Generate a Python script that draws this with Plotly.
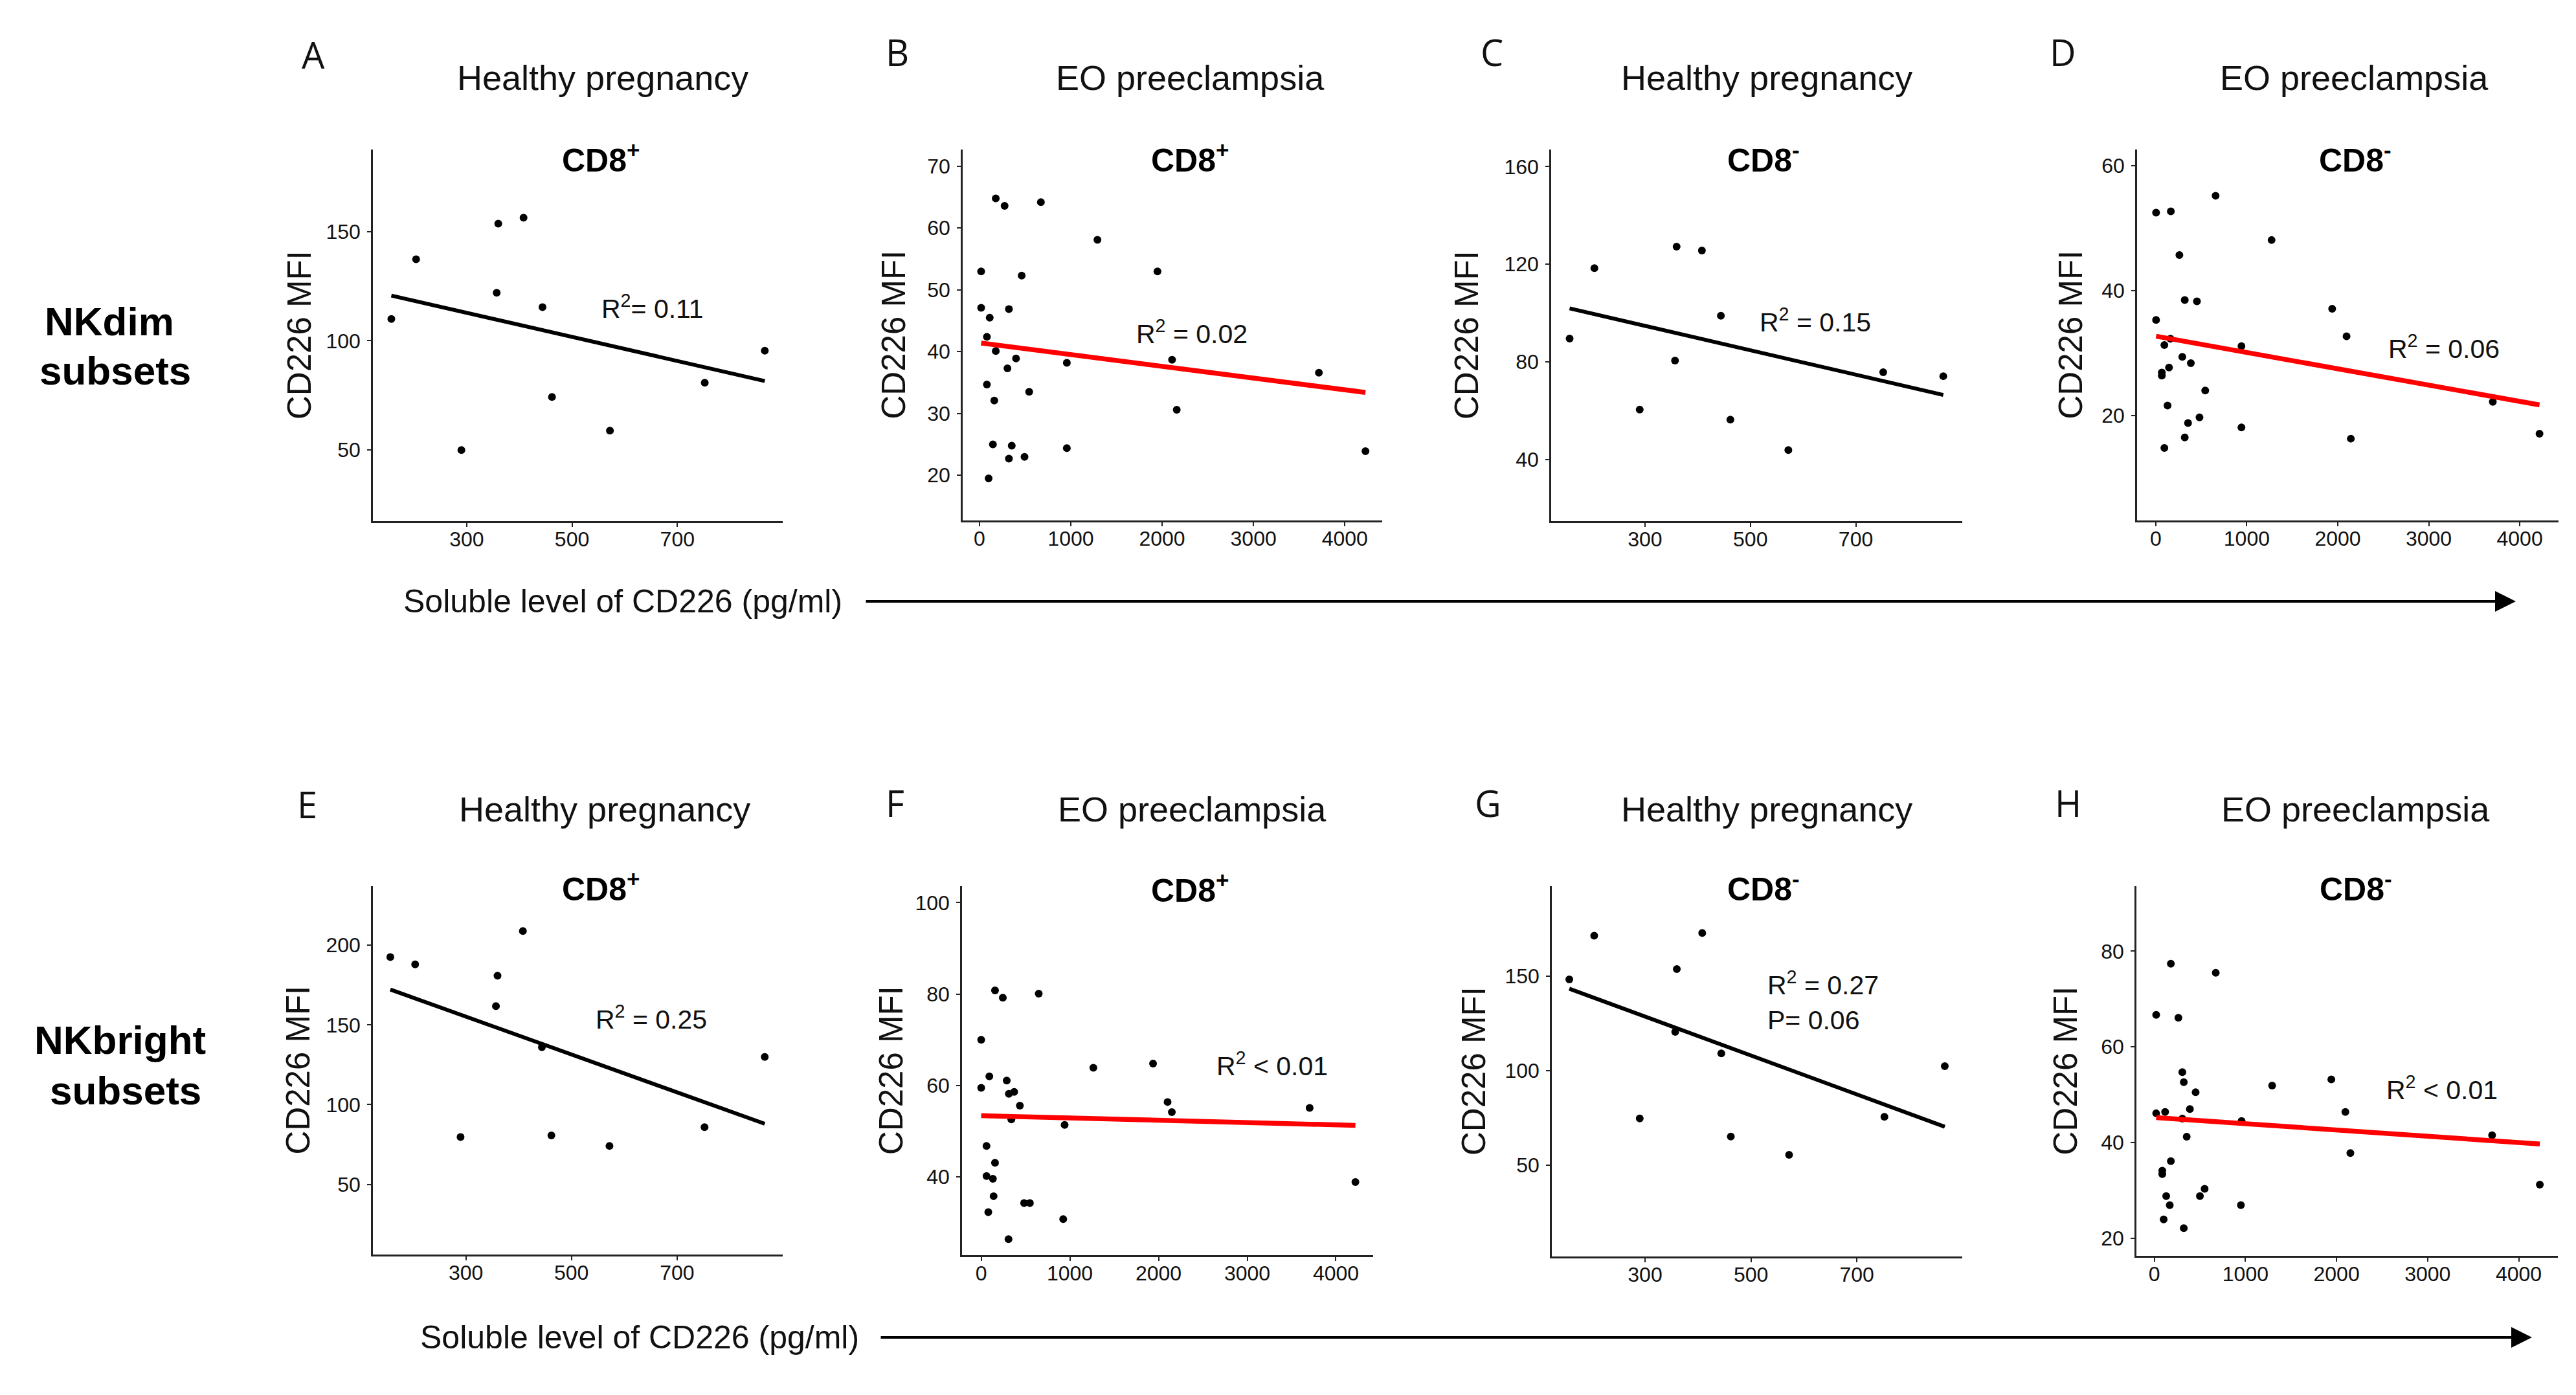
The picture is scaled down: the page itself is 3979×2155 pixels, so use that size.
import plotly.graph_objects as go

W, H = 3979, 2155

# ---------------- data ----------------
healthy_x = [157, 204, 290, 357, 360, 408, 444, 462, 572, 752, 866]
A_y = [110.0, 137.3, 50.0, 122.0, 153.6, 156.3, 115.4, 74.3, 58.9, 80.8, 95.5]
C_y = [89.5, 118.4, 60.4, 80.5, 127.2, 125.6, 98.9, 56.3, 43.8, 75.7, 74.1]
E_y = [192.5, 188.0, 79.7, 161.8, 180.9, 208.9, 136.0, 80.7, 74.1, 85.9, 129.9]
G_y = [148.2, 171.4, 74.6, 120.5, 153.7, 172.8, 109.1, 65.0, 55.3, 75.5, 102.3]

B_x = [179, 276, 673, 1292, 19, 463, 1949, 19, 323, 113, 82, 179, 401, 957,
       307, 2109, 3716, 82, 545, 163, 2160, 148, 354, 957, 323, 494, 101, 4226]
B_y = [64.8, 63.6, 64.2, 58.1, 53.0, 52.3, 53.0, 47.1, 46.9, 45.5, 42.4, 40.1, 38.9, 38.2,
       37.3, 38.7, 36.6, 34.7, 33.5, 32.1, 30.6, 25.0, 24.8, 24.4, 22.7, 23.0, 19.5, 23.9]

D_x = [658, 4, 166, 1273, 260, 319, 453, 4, 1939, 2097, 162, 95, 942, 292,
       386, 146, 67, 67, 544, 130, 3704, 481, 355, 942, 319, 2144, 95, 4217]
D_y = [55.2, 52.5, 52.7, 48.1, 45.7, 38.5, 38.3, 35.3, 37.1, 32.7, 32.3, 31.3, 31.1, 29.4,
       28.4, 27.7, 26.9, 26.4, 24.0, 21.6, 22.2, 19.7, 18.8, 18.1, 16.5, 16.3, 14.8, 17.1]

F_x = [156, 244, 649, 0, 1265, 1938, 92, 288, 0, 312, 372, 436, 2102, 2150,
       3704, 340, 941, 60, 156, 60, 132, 140, 484, 549, 80, 925, 308, 4220]
F_y = [80.8, 79.2, 80.1, 70.0, 63.9, 64.8, 62.0, 61.1, 59.5, 58.2, 58.6, 55.6, 56.4, 54.2,
       55.1, 52.6, 51.4, 46.8, 43.1, 40.2, 39.6, 35.8, 34.3, 34.3, 32.3, 30.8, 26.4, 38.9]

H_x = [181, 674, 20, 264, 307, 323, 453, 1293, 1943, 20, 118, 390, 307, 958, 2097,
       355, 3708, 2152, 181, 87, 87, 552, 130, 500, 169, 950, 102, 323, 4232]
H_y = [77.4, 75.5, 66.7, 66.1, 54.7, 52.6, 50.5, 51.9, 53.2, 46.1, 46.4, 47.0, 45.0, 44.5, 46.4,
       41.2, 41.5, 37.8, 36.1, 34.1, 33.4, 30.3, 28.8, 28.8, 26.9, 26.9, 23.9, 22.1, 31.2]

# regression line values at the lowest and highest x of each panel
A_fit = [120.7, 81.6]
B_fit = [41.4, 33.4]
C_fit = [101.9, 66.4]
D_fit = [32.7, 21.7]
E_fit = [172.2, 88.0]
F_fit = [53.4, 51.3]
G_fit = [143.3, 70.2]
H_fit = [45.2, 39.7]

healthy_xticks = [300, 500, 700]
eo_xticks = [0, 1000, 2000, 3000, 4000]

panel_letters = ["A", "B", "C", "D", "E", "F", "G", "H"]
group_titles = ["Healthy pregnancy", "EO preeclampsia", "Healthy pregnancy", "EO preeclampsia"] * 2
subset_titles = ["CD8<sup>+</sup>", "CD8<sup>+</sup>", "CD8<sup>-</sup>", "CD8<sup>-</sup>"] * 2
r2_labels = ["R<sup>2</sup>= 0.11", "R<sup>2</sup> = 0.02", "R<sup>2</sup> = 0.15", "R<sup>2</sup> = 0.06",
             "R<sup>2</sup> = 0.25", "R<sup>2</sup> &lt; 0.01", "R<sup>2</sup> = 0.27<br>P= 0.06",
             "R<sup>2</sup> &lt; 0.01"]
row_label_lines = [("NKdim", "subsets"), ("NKbright", "subsets")]
x_label = "Soluble level of CD226 (pg/ml)"
y_label = "CD226 MFI"

# ---------------- layout geometry (pixels) ----------------
panels = [
    dict(x=healthy_x, y=A_y, fit=A_fit, col="#000000", box=(568, 1201, 223, 797),
         xr=[122, 900], yr=[17.5, 187.5], xt=healthy_xticks, yt=[50, 100, 150],
         r2=(653, 115.5), r2anchor="center", ylab_x=455),
    dict(x=B_x, y=B_y, fit=B_fit, col="#ff0000", box=(1479, 2127, 223, 796),
         xr=[-183, 4409], yr=[12.7, 72.7], xt=eo_xticks, yt=[20, 30, 40, 50, 60, 70],
         r2=(2327, 43.2), r2anchor="center", ylab_x=1372),
    dict(x=healthy_x, y=C_y, fit=C_fit, col="#000000", box=(2388, 3023, 223, 797),
         xr=[122, 902], yr=[14.7, 167], xt=healthy_xticks, yt=[40, 80, 120, 160],
         r2=(623, 97.0), r2anchor="center", ylab_x=2258),
    dict(x=D_x, y=D_y, fit=D_fit, col="#ff0000", box=(3293, 3944, 223, 796),
         xr=[-205, 4426], yr=[3.2, 62.6], xt=eo_xticks, yt=[20, 40, 60],
         r2=(3165, 31.0), r2anchor="center", ylab_x=3190),
    dict(x=healthy_x, y=E_y, fit=E_fit, col="#000000", box=(568, 1201, 1361, 1930),
         xr=[124, 900], yr=[6, 237], xt=healthy_xticks, yt=[50, 100, 150, 200],
         r2=(651, 154.5), r2anchor="center", ylab_x=452),
    dict(x=F_x, y=F_y, fit=F_fit, col="#ff0000", box=(1478, 2113, 1361, 1931),
         xr=[-216, 4420], yr=[22.9, 103.6], xt=eo_xticks, yt=[40, 60, 80, 100],
         r2=(3279, 64.6), r2anchor="center", ylab_x=1368),
    dict(x=healthy_x, y=G_y, fit=G_fit, col="#000000", box=(2389, 3023, 1361, 1933),
         xr=[124, 899], yr=[1.5, 197.6], xt=healthy_xticks, yt=[50, 100, 150],
         r2=(529, 137.0), r2anchor="left", ylab_x=2268),
    dict(x=H_x, y=H_y, fit=H_fit, col="#ff0000", box=(3292, 3943, 1361, 1932),
         xr=[-197, 4430], yr=[16.3, 93.6], xt=eo_xticks, yt=[20, 40, 60, 80],
         r2=(3161, 51.3), r2anchor="center", ylab_x=3182),
]

letter_pos = [(476, 76), (1378, 72), (2296, 72), (3178, 72),
              (466, 1234), (1374, 1232), (2290, 1232), (3186, 1232)]
title_pos = [(923, 112), (1830, 112), (2721, 112), (3628, 112),
             (926, 1242), (1833, 1242), (2721, 1242), (3630, 1242)]
subset_pos = [(920, 236), (1830, 236), (2716, 236), (3630, 236),
              (920, 1362), (1830, 1364), (2716, 1362), (3631, 1362)]
row_label_pos = [((161, 488), (170, 565)), ((177, 1598), (186, 1676))]

ARIAL = "Liberation Sans, Arial, sans-serif"
LETTER_FONT = "Open Sans, Liberation Sans, sans-serif"


def px(x):
    return x / W


def py(y):
    return 1 - y / H


fig = go.Figure()
annotations = []
layout_axes = {}

for i, p in enumerate(panels):
    n = i + 1
    xa = "x" if n == 1 else f"x{n}"
    ya = "y" if n == 1 else f"y{n}"
    fig.add_trace(go.Scatter(
        x=p["x"], y=p["y"], mode="markers", xaxis=xa, yaxis=ya,
        marker=dict(color="black", size=12), showlegend=False, hoverinfo="skip"))
    fig.add_trace(go.Scatter(
        x=[min(p["x"]), max(p["x"])], y=p["fit"], mode="lines", xaxis=xa, yaxis=ya,
        line=dict(color=p["col"], width=6 if p["col"] == "#000000" else 7.5),
        showlegend=False, hoverinfo="skip"))
    l, r, t, b = p["box"]
    axis_common = dict(showline=True, linecolor="#222222", linewidth=2.5, showgrid=False,
                       zeroline=False, ticks="outside", ticklen=6, tickwidth=2,
                       tickcolor="#222222", tickfont=dict(family=ARIAL, size=32, color="#111111"),
                       fixedrange=True)
    layout_axes["xaxis" if n == 1 else f"xaxis{n}"] = dict(
        domain=[px(l), px(r)], range=p["xr"], tickvals=p["xt"], anchor=ya,
        ticklabelstandoff=-8, **axis_common)
    layout_axes["yaxis" if n == 1 else f"yaxis{n}"] = dict(
        domain=[py(b), py(t)], range=p["yr"], tickvals=p["yt"], anchor=xa,
        ticklabelstandoff=4, **axis_common)

    # R^2 annotation in data coordinates
    annotations.append(dict(
        x=p["r2"][0], y=p["r2"][1], xref=xa, yref=ya, text=r2_labels[i], showarrow=False,
        xanchor=p["r2anchor"], yanchor="middle", align="left",
        font=dict(family=ARIAL, size=41, color="#111111")))
    # y-axis title
    annotations.append(dict(
        x=px(p["ylab_x"]), y=py((t + b) / 2), xref="paper", yref="paper", text=y_label,
        showarrow=False, textangle=-90, xanchor="center", yanchor="middle",
        font=dict(family=ARIAL, size=51, color="#111111")))
    # panel letter
    annotations.append(dict(
        x=px(letter_pos[i][0]), y=py(letter_pos[i][1]), xref="paper", yref="paper",
        text=panel_letters[i], showarrow=False, xanchor="center", yanchor="middle",
        font=dict(family=LETTER_FONT, size=56, color="#111111")))
    # group title
    annotations.append(dict(
        x=px(title_pos[i][0]), y=py(title_pos[i][1]), xref="paper", yref="paper",
        text=group_titles[i], showarrow=False, xanchor="center", yanchor="middle",
        font=dict(family=ARIAL, size=54, color="#111111")))
    # subset title
    annotations.append(dict(
        x=px(subset_pos[i][0]), y=py(subset_pos[i][1]), xref="paper", yref="paper",
        text="<b>" + subset_titles[i] + "</b>", showarrow=False, xanchor="center",
        yanchor="middle", font=dict(family=ARIAL, size=50, color="#000000")))

# row labels (two lines each)
for lines, poss in zip(row_label_lines, row_label_pos):
    for txt, (lx, ly) in zip(lines, poss):
        annotations.append(dict(x=px(lx), y=py(ly), xref="paper", yref="paper",
                                text="<b>" + txt + "</b>", showarrow=False,
                                xanchor="center", yanchor="middle",
                                font=dict(family=ARIAL, size=62, color="#000000")))

# x labels with arrows
for (tx, ty, a0, a1) in [(954, 921, 1328, 3878), (980, 2058, 1351, 3903)]:
    annotations.append(dict(x=px(tx), y=py(ty), xref="paper", yref="paper", text=x_label,
                            showarrow=False, xanchor="center", yanchor="middle",
                            font=dict(family=ARIAL, size=50, color="#111111")))
    annotations.append(dict(x=px(a1), y=py(ty), ax=a0 - a1, ay=0, xref="paper", yref="paper",
                            axref="pixel", ayref="pixel", text="", showarrow=True,
                            arrowhead=2, arrowsize=1.6, arrowwidth=4, arrowcolor="#000000"))

fig.update_layout(
    width=W, height=H, autosize=False,
    margin=dict(l=0, r=0, t=0, b=0),
    paper_bgcolor="white", plot_bgcolor="white",
    annotations=annotations,
    **layout_axes,
)

fig.write_html("out.html", config={"displayModeBar": False})
